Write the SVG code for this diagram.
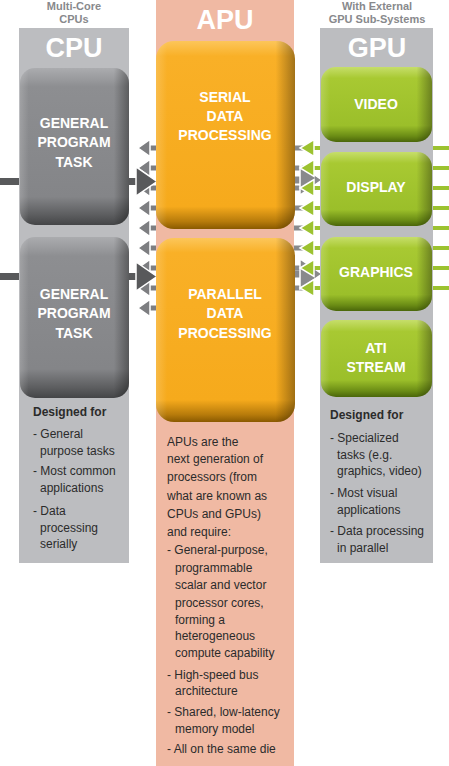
<svg xmlns="http://www.w3.org/2000/svg" width="449" height="766" viewBox="0 0 449 766">
<defs>
<linearGradient id="gGray" x1="0" y1="0" x2="0" y2="1">
<stop offset="0" stop-color="#abacaf"/><stop offset="0.12" stop-color="#8d8e91"/><stop offset="0.82" stop-color="#848588"/><stop offset="0.94" stop-color="#5b5c5e"/><stop offset="1" stop-color="#444547"/>
</linearGradient>
<linearGradient id="gOrange" x1="0" y1="0" x2="0" y2="1">
<stop offset="0" stop-color="#fcc65a"/><stop offset="0.08" stop-color="#f9b027"/><stop offset="0.88" stop-color="#f6aa1c"/><stop offset="0.96" stop-color="#b77b0b"/><stop offset="1" stop-color="#8a5a00"/>
</linearGradient>
<linearGradient id="gGreen" x1="0" y1="0" x2="0" y2="1">
<stop offset="0" stop-color="#c6de6a"/><stop offset="0.15" stop-color="#a8c932"/><stop offset="0.78" stop-color="#9bbf2a"/><stop offset="0.92" stop-color="#6b8d15"/><stop offset="1" stop-color="#4a660a"/>
</linearGradient>
<linearGradient id="shadeR" x1="0" y1="0" x2="1" y2="0">
<stop offset="0" stop-color="#ffffff" stop-opacity="0.18"/><stop offset="0.08" stop-color="#ffffff" stop-opacity="0"/><stop offset="0.86" stop-color="#000000" stop-opacity="0"/><stop offset="1" stop-color="#000000" stop-opacity="0.35"/>
</linearGradient>
</defs>
<style>
.col{fill:#bcbdc0}
.apucol{fill:#f0b9a3}
.hdr{font-family:"Liberation Sans",Arial,sans-serif;font-weight:bold;font-size:11px;fill:#88898c;text-anchor:middle}
.big{font-family:"Liberation Sans",Arial,sans-serif;font-weight:bold;font-size:27px;fill:#ffffff;text-anchor:middle}
.lbl{font-family:"Liberation Sans",Arial,sans-serif;font-weight:bold;font-size:14px;fill:#ffffff;text-anchor:middle}
.body{font-family:"Liberation Sans",Arial,sans-serif;font-size:12px;fill:#2b2b2b}
.bold{font-weight:bold}
.sh{fill:url(#shadeR)}
.lg{fill:#7d7e81}
.dk{fill:#58595b}
.gr{fill:#88898c}
.gn{fill:#9cc230}
.hd{stroke:#ffffff;stroke-width:1.5}
</style>
<rect width="449" height="766" fill="#ffffff"/>

<g id="connectors">
  <!-- CPU side: thick dark lines -->
  <rect class="dk" x="0" y="178" width="140" height="7"/>
  <rect class="dk" x="0" y="273" width="140" height="7"/>
  <!-- light gray left-pointing arrows from APU to CPU -->
  <g class="lg">
    <rect x="148" y="145.5" width="8" height="5"/><polygon class="hd" points="138,148 150,139.5 150,156.5"/>
    <rect x="148" y="165.5" width="8" height="5"/><polygon class="hd" points="138,168 150,159.5 150,176.5"/>
    <rect x="148" y="185.5" width="8" height="5"/><polygon class="hd" points="138,188 150,179.5 150,196.5"/>
    <rect x="148" y="205.5" width="8" height="5"/><polygon class="hd" points="138,208 150,199.5 150,216.5"/>
    <rect x="148" y="225.5" width="8" height="5"/><polygon class="hd" points="138,228 150,219.5 150,236.5"/>
    <rect x="148" y="245.5" width="8" height="5"/><polygon class="hd" points="138,248 150,239.5 150,256.5"/>
    <rect x="148" y="265.5" width="8" height="5"/><polygon class="hd" points="138,268 150,259.5 150,276.5"/>
    <rect x="148" y="285.5" width="8" height="5"/><polygon class="hd" points="138,288 150,279.5 150,296.5"/>
    <rect x="148" y="305.5" width="8" height="5"/><polygon class="hd" points="138,308 150,299.5 150,316.5"/>
  </g>
  <!-- dark right-pointing arrows from CPU to APU -->
  <polygon class="dk hd" points="157,181.5 136,167 136,196"/>
  <polygon class="dk hd" points="157,276.5 136,262 136,291"/>

  <!-- APU to GPU: gray shafts and right-pointing arrows -->
  <g class="gr">
    <rect x="294" y="145.5" width="10" height="5"/>
    <rect x="294" y="165.5" width="10" height="5"/>
    <rect x="294" y="185.5" width="10" height="5"/>
    <rect x="294" y="205.5" width="10" height="5"/>
    <rect x="294" y="225.5" width="10" height="5"/>
    <rect x="294" y="245.5" width="10" height="5"/>
    <rect x="294" y="265.5" width="10" height="5"/>
    <rect x="294" y="285.5" width="10" height="5"/>
    <rect x="294" y="176.5" width="8" height="7"/>
    <rect x="294" y="270.5" width="8" height="7"/>
    <polygon class="hd" points="322,180 300,165 300,195"/>
    <polygon class="hd" points="322,274 300,259 300,289"/>
  </g>
  <!-- green left-pointing arrows from GPU to APU -->
  <g class="gn">
    <rect x="312" y="146" width="137" height="4"/><polygon class="hd" points="300,148 314,139.5 314,156.5"/>
    <rect x="312" y="166" width="137" height="4"/><polygon class="hd" points="300,168 314,159.5 314,176.5"/>
    <rect x="312" y="186" width="137" height="4"/><polygon class="hd" points="300,188 314,179.5 314,196.5"/>
    <rect x="312" y="206" width="137" height="4"/><polygon class="hd" points="300,208 314,199.5 314,216.5"/>
    <rect x="312" y="226" width="137" height="4"/><polygon class="hd" points="300,228 314,219.5 314,236.5"/>
    <rect x="312" y="246" width="137" height="4"/><polygon class="hd" points="300,248 314,239.5 314,256.5"/>
    <rect x="312" y="266" width="137" height="4"/><polygon class="hd" points="300,268 314,259.5 314,276.5"/>
    <rect x="312" y="286" width="137" height="4"/><polygon class="hd" points="300,288 314,279.5 314,296.5"/>
  </g>
</g>

<g id="cpu-column">
  <rect class="col" x="19" y="28" width="110" height="535"/>
  <text class="hdr" x="74" y="10">Multi-Core</text>
  <text class="hdr" x="74" y="23">CPUs</text>
  <text class="big" x="74" y="57">CPU</text>
  <text class="body bold" x="33" y="416">Designed for</text>
  <text class="body"><tspan x="33" y="438">- General</tspan><tspan x="40" y="455">purpose tasks</tspan><tspan x="33" y="475">- Most common</tspan><tspan x="40" y="492">applications</tspan><tspan x="33" y="515">- Data</tspan><tspan x="40" y="532">processing</tspan><tspan x="40" y="548">serially</tspan></text>
</g>

<g id="apu-column">
  <rect class="apucol" x="156" y="0" width="138" height="766"/>
  <text class="big" x="225" y="29">APU</text>
  <text class="body"><tspan x="167" y="446">APUs are the</tspan><tspan x="167" y="463">next generation of</tspan><tspan x="167" y="481">processors (from</tspan><tspan x="167" y="500">what are known as</tspan><tspan x="167" y="518">CPUs and GPUs)</tspan><tspan x="167" y="536">and require:</tspan><tspan x="167" y="554">- General-purpose,</tspan><tspan x="175" y="572">programmable</tspan><tspan x="175" y="589">scalar and vector</tspan><tspan x="175" y="607">processor cores,</tspan><tspan x="175" y="624">forming a</tspan><tspan x="175" y="640">heterogeneous</tspan><tspan x="175" y="657">compute capability</tspan><tspan x="167" y="679">- High-speed bus</tspan><tspan x="175" y="695">architecture</tspan><tspan x="167" y="716">- Shared, low-latency</tspan><tspan x="175" y="733">memory model</tspan><tspan x="167" y="753">- All on the same die</tspan></text>
</g>

<g id="gpu-column">
  <rect class="col" x="320" y="28" width="113" height="535"/>
  <text class="hdr" x="377" y="10">With External</text>
  <text class="hdr" x="377" y="23">GPU Sub-Systems</text>
  <text class="big" x="377" y="57">GPU</text>
  <text class="body bold" x="330" y="419">Designed for</text>
  <text class="body"><tspan x="330" y="442">- Specialized</tspan><tspan x="337" y="459">tasks (e.g.</tspan><tspan x="337" y="475">graphics, video)</tspan><tspan x="330" y="497">- Most visual</tspan><tspan x="337" y="514">applications</tspan><tspan x="330" y="535">- Data processing</tspan><tspan x="337" y="552">in parallel</tspan></text>
</g>

<g id="cpu-task-1">
  <rect x="20" y="68" width="109" height="157" rx="15" fill="url(#gGray)"/>
  <rect class="sh" x="20" y="68" width="109" height="157" rx="15"/>
  <text class="lbl"><tspan x="74" y="128">GENERAL</tspan><tspan x="74" y="147">PROGRAM</tspan><tspan x="74" y="167">TASK</tspan></text>
</g>
<g id="cpu-task-2">
  <rect x="20" y="237" width="109" height="161" rx="15" fill="url(#gGray)"/>
  <rect class="sh" x="20" y="237" width="109" height="161" rx="15"/>
  <text class="lbl"><tspan x="74" y="299">GENERAL</tspan><tspan x="74" y="318">PROGRAM</tspan><tspan x="74" y="338">TASK</tspan></text>
</g>

<g id="apu-serial">
  <rect x="156" y="41" width="139" height="188" rx="18" fill="url(#gOrange)"/>
  <rect class="sh" x="156" y="41" width="139" height="188" rx="18"/>
  <text class="lbl"><tspan x="225" y="102">SERIAL</tspan><tspan x="225" y="121">DATA</tspan><tspan x="225" y="140">PROCESSING</tspan></text>
</g>
<g id="apu-parallel">
  <rect x="156" y="238" width="139" height="184" rx="18" fill="url(#gOrange)"/>
  <rect class="sh" x="156" y="238" width="139" height="184" rx="18"/>
  <text class="lbl"><tspan x="225" y="299">PARALLEL</tspan><tspan x="225" y="318">DATA</tspan><tspan x="225" y="338">PROCESSING</tspan></text>
</g>

<g id="gpu-video">
  <rect x="321" y="67" width="111" height="75" rx="15" fill="url(#gGreen)"/>
  <rect class="sh" x="321" y="67" width="111" height="75" rx="15"/>
  <text class="lbl" x="376" y="109">VIDEO</text>
</g>
<g id="gpu-display">
  <rect x="321" y="152" width="111" height="74" rx="15" fill="url(#gGreen)"/>
  <rect class="sh" x="321" y="152" width="111" height="74" rx="15"/>
  <text class="lbl" x="376" y="192">DISPLAY</text>
</g>
<g id="gpu-graphics">
  <rect x="321" y="237" width="111" height="74" rx="15" fill="url(#gGreen)"/>
  <rect class="sh" x="321" y="237" width="111" height="74" rx="15"/>
  <text class="lbl" x="376" y="277">GRAPHICS</text>
</g>
<g id="gpu-ati-stream">
  <rect x="321" y="320" width="111" height="77" rx="15" fill="url(#gGreen)"/>
  <rect class="sh" x="321" y="320" width="111" height="77" rx="15"/>
  <text class="lbl"><tspan x="376" y="353">ATI</tspan><tspan x="376" y="372">STREAM</tspan></text>
</g>
</svg>
